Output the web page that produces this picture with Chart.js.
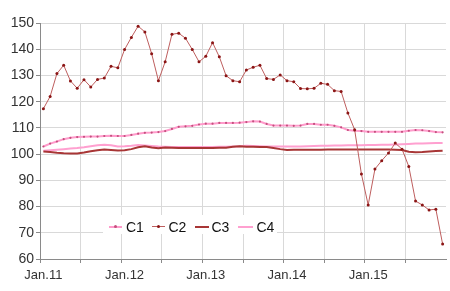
<!DOCTYPE html>
<html>
<head>
<meta charset="utf-8">
<script src="https://cdn.jsdelivr.net/npm/chart.js@4.4.1/dist/chart.umd.min.js"></script>
<style>
  html, body { margin: 0; padding: 0; background: #fff; }
  #wrap { position: relative; width: 450px; height: 291px; }
  canvas { display: block; }
  .lg { position: absolute; font: 14px "Liberation Sans", Arial, sans-serif; color: #111; line-height: 16px; height: 16px; white-space: nowrap; }
  .ln { position: absolute; }
  .dot { position: absolute; width: 3px; height: 3px; border-radius: 50%; }
</style>
</head>
<body>
<div id="wrap">
  <canvas id="c" width="450" height="291"></canvas>
  <div id="legend" style="position:absolute;left:103px;top:215px;width:174px;height:19px;background:#fff;"></div>
</div>
<script>
// ---- data ----
const years = ['11', '12', '13', '14', '15'];
const months = ['Jan', 'Feb', 'Mar', 'Apr', 'May', 'Jun', 'Jul', 'Aug', 'Sep', 'Oct', 'Nov', 'Dec'];
const categories = [];
years.forEach(y => months.forEach(m => categories.push(m + '.' + y)));
const tickLabels = ['Jan.11', 'Jan.12', 'Jan.13', 'Jan.14', 'Jan.15'];

const seriesNames = ['C1', 'C2', 'C3', 'C4'];

const c1 = [102.9,104.0,104.8,105.7,106.2,106.5,106.6,106.7,106.7,106.9,107.0,106.9,
            106.9,107.3,107.8,108.1,108.2,108.4,108.8,109.6,110.4,110.6,110.8,111.3,
            111.6,111.6,111.9,111.9,111.9,112.0,112.2,112.5,112.4,111.5,110.9,110.9,
            110.9,110.8,110.9,111.5,111.5,111.2,111.2,110.8,110.2,109.2,108.9,108.8,
            108.5,108.5,108.5,108.5,108.5,108.5,108.9,109.2,109.1,108.8,108.4,108.3];

const c2 = [117.3,122.0,130.7,133.9,127.9,125.1,128.4,125.6,128.5,129.0,133.5,132.9,
            139.9,144.5,148.8,146.6,138.3,128.0,135.2,145.7,146.1,144.2,139.9,135.2,
            137.3,142.5,137.1,129.9,128.0,127.6,132.1,133.1,133.9,128.8,128.5,130.2,
            128.0,127.6,125.0,124.9,125.1,127.0,126.6,124.2,123.9,115.7,109.3,92.4,
            80.6,94.3,97.5,100.4,104.2,101.9,95.3,82.1,80.6,78.7,79.0,65.7];

const c3 = [101.0,100.8,100.5,100.3,100.2,100.2,100.6,101.1,101.5,101.8,101.6,101.4,
            101.5,101.9,102.6,103.0,102.5,102.2,102.5,102.4,102.3,102.3,102.3,102.3,
            102.3,102.3,102.4,102.4,102.8,103.0,102.8,102.8,102.7,102.7,102.3,101.9,
            101.6,101.7,101.7,101.7,101.7,101.7,101.8,101.8,101.8,101.8,101.8,101.8,
            101.8,101.8,101.8,101.8,101.7,101.6,100.9,100.7,100.8,101.0,101.2,101.3];

const c4 = [101.3,101.5,101.7,101.9,102.1,102.3,102.6,103.0,103.4,103.6,103.4,102.9,
            103.0,103.2,103.5,103.3,103.1,102.9,102.8,102.7,102.7,102.7,102.7,102.7,
            102.7,102.7,102.8,102.8,102.9,103.0,103.2,103.1,103.0,102.9,102.9,102.9,
            102.9,102.9,102.9,103.0,103.1,103.2,103.2,103.3,103.3,103.4,103.4,103.4,
            103.5,103.5,103.6,103.6,103.7,103.8,103.9,104.0,104.0,104.1,104.2,104.2];

const yMin = 60, yMax = 150, yStep = 10;

// ---- styles ----
const colC1 = '#FF9BCB', dotC1 = '#C4507E';
const colC2 = '#BE5E5E', dotC2 = '#8B1515';
const colC3 = '#A83636';
const colC4 = '#FFA0D0';
const gridCol = '#d9d9d9', axisCol = '#8a8a8a';
const TR = 'rgba(0,0,0,0)';

new Chart(document.getElementById('c'), {
  type: 'line',
  data: {
    labels: categories,
    datasets: [
      { label: seriesNames[0], data: c1, borderColor: colC1, borderWidth: 2, pointRadius: 1.1,
        pointBackgroundColor: dotC1, pointBorderWidth: 0, tension: 0, order: 2 },
      { label: seriesNames[1], data: c2, borderColor: colC2, borderWidth: 1, pointRadius: 1.5,
        pointBackgroundColor: dotC2, pointBorderWidth: 0, tension: 0, order: 1 },
      { label: seriesNames[2], data: c3, borderColor: colC3, borderWidth: 2, pointRadius: 0,
        tension: 0, order: 3 },
      { label: seriesNames[3], data: c4, borderColor: colC4, borderWidth: 2, pointRadius: 0,
        tension: 0, order: 4 }
    ]
  },
  options: {
    responsive: false,
    animation: false,
    events: [],
    layout: { padding: { top: 23, right: 2, left: 0, bottom: 0 } },
    plugins: { legend: { display: false }, tooltip: { enabled: false } },
    scales: {
      x: {
        type: 'category',
        offset: true,
        grid: {
          offset: true,
          color: ctx => (ctx.index !== undefined && ctx.index % 6 === 0) ? gridCol : TR,
          tickColor: ctx => (ctx.index !== undefined && ctx.index % 6 === 0) ? axisCol : TR,
          tickLength: 4
        },
        border: { color: axisCol, width: 1 },
        ticks: {
          autoSkip: false, maxRotation: 0, minRotation: 0, padding: 5,
          color: '#333', font: { family: '"Liberation Sans", Arial, sans-serif', size: 13 },
          callback: (v, i) => (i % 12 === 0) ? tickLabels[i / 12] : ''
        },
        afterFit: s => { s.height = 32; }
      },
      y: {
        min: yMin, max: yMax,
        grid: { color: gridCol, tickColor: axisCol, tickLength: 4 },
        border: { color: axisCol, width: 1 },
        ticks: {
          stepSize: yStep, padding: 2, color: '#333',
          font: { family: '"Liberation Sans", Arial, sans-serif', size: 14 }
        },
        afterFit: s => { s.width = 40; }
      }
    }
  }
});

// ---- legend (HTML, drawn inside the plot area) ----
const legendItems = [
  { name: seriesNames[0], color: colC1, w: 2, dot: dotC1, x: 109, len: 13, tx: 126 },
  { name: seriesNames[1], color: colC2, w: 1, dot: dotC2, x: 152, len: 13, tx: 168.5 },
  { name: seriesNames[2], color: colC3, w: 2, dot: null,  x: 195, len: 14, tx: 211.5 },
  { name: seriesNames[3], color: colC4, w: 2, dot: null,  x: 238, len: 15, tx: 256.5 }
];
const wrap = document.getElementById('wrap');
legendItems.forEach(it => {
  const ln = document.createElement('div');
  ln.className = 'ln';
  ln.style.left = it.x + 'px';
  ln.style.top = (226.7 - it.w / 2) + 'px';
  ln.style.width = it.len + 'px';
  ln.style.height = it.w + 'px';
  ln.style.background = it.color;
  wrap.appendChild(ln);
  if (it.dot) {
    const d = document.createElement('div');
    d.className = 'dot';
    d.style.left = (it.x + it.len / 2 - 1.5) + 'px';
    d.style.top = (226.7 - 1.5) + 'px';
    d.style.background = it.dot;
    wrap.appendChild(d);
  }
  const t = document.createElement('div');
  t.className = 'lg';
  t.style.left = it.tx + 'px';
  t.style.top = '219px';
  t.textContent = it.name;
  wrap.appendChild(t);
});
</script>
</body>
</html>
